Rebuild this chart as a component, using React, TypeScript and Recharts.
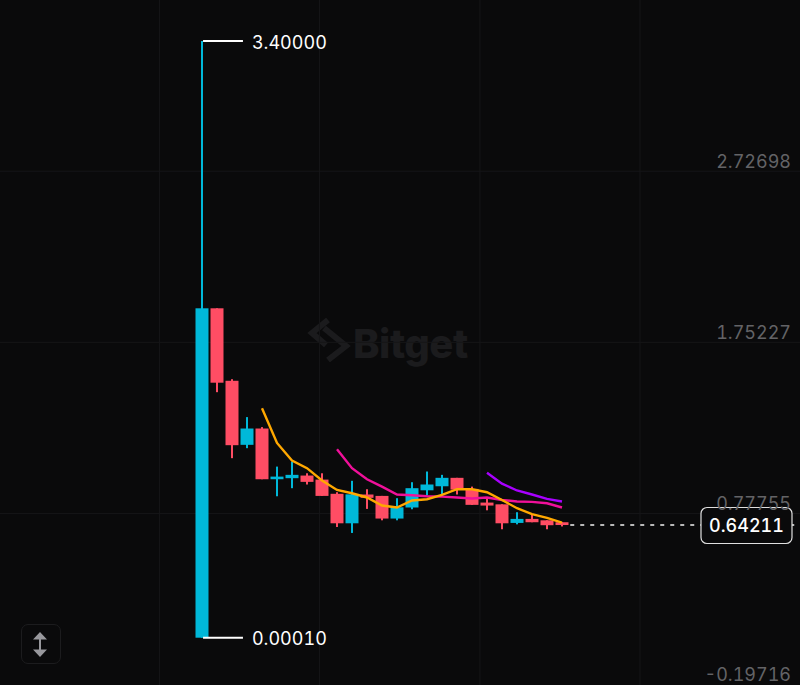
import { Bar, CartesianGrid, ComposedChart, Line, ReferenceDot, ReferenceLine, XAxis, YAxis } from "recharts";

const W = 800;
const H = 685;
const UP = "#00b8d9";
const DOWN = "#ff4d64";
const FONT = "Inter, sans-serif";

const opens = [0.0001, 1.877, 1.464, 1.099, 1.192, 0.903, 0.909, 0.924, 0.901, 0.82, 0.652, 0.816, 0.808, 0.679, 0.742, 0.84, 0.863, 0.911, 0.848, 0.77, 0.76, 0.654, 0.677, 0.669, 0.658];
const highs = [3.4, 1.877, 1.473, 1.257, 1.2, 0.975, 1.004, 0.937, 0.937, 0.829, 0.894, 0.846, 0.808, 0.795, 0.886, 0.947, 0.928, 0.911, 0.861, 0.799, 0.76, 0.715, 0.7, 0.669, 0.658];
const lows = [0.0001, 1.399, 1.023, 1.08, 0.903, 0.806, 0.852, 0.873, 0.808, 0.631, 0.597, 0.734, 0.669, 0.669, 0.732, 0.81, 0.816, 0.816, 0.757, 0.726, 0.618, 0.646, 0.658, 0.618, 0.634];
const closes = [1.877, 1.453, 1.097, 1.192, 0.903, 0.918, 0.928, 0.888, 0.808, 0.652, 0.817, 0.797, 0.679, 0.743, 0.852, 0.873, 0.911, 0.844, 0.757, 0.753, 0.652, 0.677, 0.658, 0.641, 0.64211];
const ma5 = [null, null, null, null, 1.308, 1.11, 1.01, 0.966, 0.896, 0.842, 0.823, 0.799, 0.753, 0.742, 0.782, 0.789, 0.814, 0.846, 0.846, 0.829, 0.785, 0.738, 0.704, 0.683, 0.656];
const ma10 = [null, null, null, null, null, null, null, null, null, 1.074, 0.966, 0.903, 0.861, 0.816, 0.812, 0.806, 0.804, 0.799, 0.793, 0.799, 0.785, 0.776, 0.774, 0.766, 0.742];
const ma20 = [null, null, null, null, null, null, null, null, null, null, null, null, null, null, null, null, null, null, null, 0.94, 0.878, 0.839, 0.816, 0.791, 0.776];

const priceTicks = [2.72698, 1.75227, 0.77755, -0.19716];
const gridPrices = [2.658, 1.683, 0.707];
const gridSlots = [-2.83, 7.83, 18.53, 29.2];
const HIGH = 3.4;
const LOW = 0.0001;
const LAST = 0.64211;

const X_DOMAIN = [-13.467, 39.867];
const Y_DOMAIN = [-0.2694, 3.6336];

const rows = opens.map((open, i) => ({
  i,
  open,
  close: closes[i],
  high: highs[i],
  low: lows[i],
  range: [lows[i], highs[i]],
  ma5: ma5[i],
  ma10: ma10[i],
  ma20: ma20[i],
}));

function Candle(props: any) {
  const { x, y, width, height, payload } = props;
  const { open, close, high, low } = payload;
  const top = Math.min(y, y + height);
  const span = Math.abs(height);
  const perUnit = span / (high - low);
  const bodyTop = top + (high - Math.max(open, close)) * perUnit;
  const bodyBottom = top + (high - Math.min(open, close)) * perUnit;
  const color = close >= open ? UP : DOWN;
  const cx = x + width / 2;
  return (
    <g>
      <rect x={cx - 1} y={top} width={2} height={span} fill={color} />
      <rect x={x} y={bodyTop} width={width} height={Math.max(bodyBottom - bodyTop, 1)} fill={color} />
    </g>
  );
}

function PriceTick(props: any) {
  const { y, payload } = props;
  return (
    <text x={W - 9} y={y + 9} textAnchor="end" fill="#636366" fontSize={18} fontFamily={FONT}>
      {payload.value.toFixed(5)}
    </text>
  );
}

function LastPriceBox(props: any) {
  const { cx, cy } = props;
  return (
    <g>
      <rect x={cx - 45.5} y={cy - 17.5} width={91} height={36} rx={6} fill="#0a0a0b" stroke="#e0e0e0" strokeWidth={1.2} />
      <text x={cx} y={cy + 6.5} textAnchor="middle" fill="#ffffff" fontSize={18} fontWeight={500} fontFamily={FONT}>
        {LAST.toFixed(5)}
      </text>
    </g>
  );
}

function Watermark() {
  return (
    <div style={{ position: "absolute", left: 306, top: 316, width: 170, height: 54 }}>
      <svg width={50} height={44} style={{ position: "absolute", left: 0, top: 2 }}>
        <path d="M 22 2 L 6 15 L 20 27 M 18 10 L 40 28 L 22 42" fill="none" stroke="#1b1b1d" strokeWidth={6} />
      </svg>
      <div style={{ position: "absolute", left: 47, top: 6, fontFamily: FONT, fontWeight: 800, fontSize: 40, lineHeight: "44px", color: "#1b1b1d", letterSpacing: -0.5 }}>
        Bitget
      </div>
    </div>
  );
}

function ScaleButton() {
  return (
    <div style={{ position: "absolute", left: 21, top: 624, width: 38, height: 38, border: "1.5px solid #1c1c1e", borderRadius: 7 }}>
      <svg width={38} height={38}>
        <path d="M 18 7 L 25 14.5 L 11 14.5 Z M 11 24.5 L 25 24.5 L 18 32 Z" fill="#98989d" />
        <rect x={17} y={14} width={2} height={11} fill="#98989d" />
      </svg>
    </div>
  );
}

export default function App() {
  return (
    <div style={{ position: "absolute", left: 0, top: 0, width: W, height: H, background: "#0a0a0b", overflow: "hidden", fontVariantNumeric: "tabular-nums" }}>
      <Watermark />
      <div style={{ position: "absolute", left: 0, top: 0 }}>
        <ComposedChart width={W} height={H} data={rows} margin={{ top: 0, right: 0, bottom: 0, left: 0 }}>
          <CartesianGrid stroke="#161618" horizontalValues={gridPrices} verticalValues={gridSlots} />
          <XAxis dataKey="i" type="number" domain={X_DOMAIN} allowDataOverflow hide />
          <YAxis
            orientation="right"
            mirror
            type="number"
            domain={Y_DOMAIN}
            allowDataOverflow
            ticks={priceTicks}
            interval={0}
            tick={<PriceTick />}
            tickLine={false}
            axisLine={false}
          />
          <Bar dataKey="range" barSize={13} shape={<Candle />} isAnimationActive={false} />
          <Line dataKey="ma20" type="linear" stroke="#a800ff" strokeWidth={2.4} dot={false} activeDot={false} isAnimationActive={false} />
          <Line dataKey="ma10" type="linear" stroke="#f0109a" strokeWidth={2.4} dot={false} activeDot={false} isAnimationActive={false} />
          <Line dataKey="ma5" type="linear" stroke="#ffa800" strokeWidth={2.4} dot={false} activeDot={false} isAnimationActive={false} />
          <ReferenceLine
            segment={[{ x: 0.07, y: HIGH }, { x: 2.73, y: HIGH }]}
            stroke="#ffffff"
            strokeWidth={2}
            label={{ value: HIGH.toFixed(5), position: "right", offset: 9, dy: 2, fill: "#ffffff", fontSize: 18, fontFamily: FONT }}
          />
          <ReferenceLine
            segment={[{ x: 0.07, y: LOW }, { x: 2.73, y: LOW }]}
            stroke="#ffffff"
            strokeWidth={2}
            label={{ value: LOW.toFixed(5), position: "right", offset: 9, dy: 1, fill: "#ffffff", fontSize: 18, fontFamily: FONT }}
          />
          <ReferenceLine
            segment={[{ x: 24.55, y: LAST }, { x: 39.867, y: LAST }]}
            stroke="#f2f2f2"
            strokeWidth={1.5}
            strokeDasharray="4 6"
          />
          <ReferenceDot x={36.3} y={LAST} r={0} shape={<LastPriceBox />} />
        </ComposedChart>
      </div>
      <ScaleButton />
    </div>
  );
}
